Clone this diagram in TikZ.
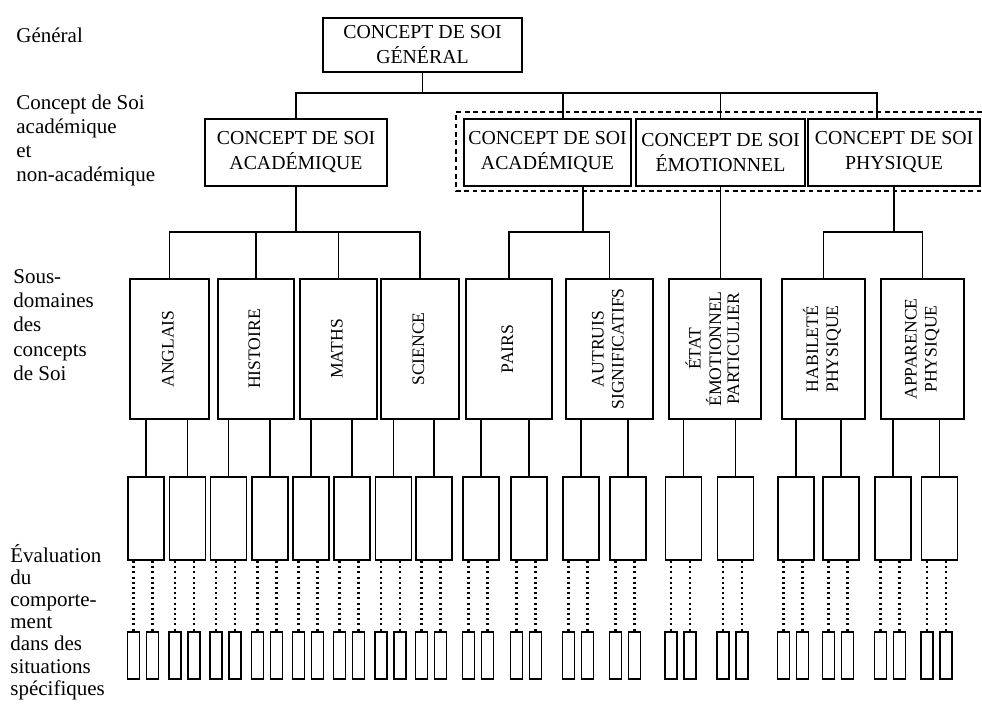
\documentclass[tikz,border=0pt]{standalone}
\usepackage{fontspec}
\setmainfont{Liberation Serif}
\newcommand{\vt}[1]{\rotatebox{90}{\begin{tabular}{@{}c@{}}#1\end{tabular}}}
\begin{document}
\begin{tikzpicture}[x=0.5pt,y=-0.5pt,
  box/.style={draw, line width=0.9pt, inner sep=0pt, align=center},
  conc/.style={box, minimum height=33.5pt, font=\fontsize{9.9}{12.5}\selectfont},
  sub/.style={box, minimum height=70pt, font=\fontsize{8.8}{10}\selectfont},
  med/.style={draw, line width=0.9pt, minimum width=18pt, minimum height=41.5pt, inner sep=0pt},
  sm/.style={draw, line width=0.8pt, minimum width=6pt, minimum height=23.5pt, inner sep=0pt},
  conn/.style={line width=0.85pt},
  dotline/.style={line width=1.1pt, dash pattern=on 1pt off 1.6pt},
  dashbox/.style={line width=0.8pt, dash pattern=on 2.4pt off 1.8pt},
  lab/.style={anchor=west, align=left, inner sep=0pt, font=\fontsize{10.5}{12.2}\selectfont}]
\fill[white] (0,0) rectangle (982,706);
\useasboundingbox (0,0) rectangle (982,706);

% left labels
\node[lab] (l1) at (16,35) {Général};
\node[lab, font=\fontsize{10.5}{12}\selectfont] (l2) at (16,140) {Concept de Soi\\académique\\et\\non-académique};
\node[lab] (l3) at (13,325) {Sous-\\domaines\\des\\concepts\\de Soi};
\node[lab, font=\fontsize{10.5}{11.1}\selectfont] (l4) at (10,622) {Évaluation\\du\\comporte-\\ment\\dans des\\situations\\spécifiques};

% level 1 and 2
\node[conc, minimum width=99.5pt, minimum height=27pt] (gen) at (422.5,45) {CONCEPT DE SOI\\GÉNÉRAL};
\node[conc, minimum width=91pt] (aca) at (296,152.5) {CONCEPT DE SOI\\ACADÉMIQUE};
\node[conc, minimum width=83.5pt] (acb) at (547.5,152.5) {CONCEPT DE SOI\\ACADÉMIQUE};
\node[conc, minimum width=84.5pt] (emo) at (720.5,152.5) {CONCEPT DE SOI\\ÉMOTIONNEL};
\node[conc, minimum width=86pt] (phy) at (894,152.5) {CONCEPT DE SOI\\PHYSIQUE};
\draw[dashbox] (982,112) -- (456,112) -- (456,191) -- (982,191);

% level 3
\node[sub, minimum width=39.5pt] (ang) at (169.5,349) {\vt{ANGLAIS}};
\node[sub, minimum width=38pt] (his) at (256,349) {\vt{HISTOIRE}};
\node[sub, minimum width=38.5pt] (mat) at (338.5,349) {\vt{MATHS}};
\node[sub, minimum width=39pt] (sci) at (420,349) {\vt{SCIENCE}};
\node[sub, minimum width=43pt] (pai) at (509,349) {\vt{PAIRS}};
\node[sub, minimum width=43.5pt] (aut) at (609.5,349) {\vt{AUTRUIS\\SIGNIFICATIFS}};
\node[sub, minimum width=46pt, font=\fontsize{8.8}{9}\selectfont] (eta) at (715,349) {\vt{ÉTAT\\ÉMOTIONNEL\\PARTICULIER}};
\node[sub, minimum width=41.5pt] (hab) at (823.5,349) {\vt{HABILETÉ\\PHYSIQUE}};
\node[sub, minimum width=41.5pt] (app) at (922.5,349) {\vt{APPARENCE\\PHYSIQUE}};

% connectors level 1 -> 2
\coordinate (t0) at (300,93);
\coordinate (dacb) at (563,93);
\coordinate (dphy) at (877,93);
\draw[conn] (gen.south) -- (gen.south |- t0);
\draw[conn] (aca.north) -- (aca.north |- t0) -- (dphy) -- (dphy |- phy.north);
\draw[conn] (dacb) -- (dacb |- acb.north);
\draw[conn] (emo.north) -- (emo.north |- t0);

% connectors level 2 -> 3
\coordinate (h2) at (0,232);
\coordinate (xacb) at (583,0);
\draw[conn] (aca.south) -- (aca.south |- h2);
\draw[conn] (ang.north) -- (ang.north |- h2) -- (sci.north |- h2) -- (sci.north);
\draw[conn] (his.north) -- (his.north |- h2);
\draw[conn] (mat.north) -- (mat.north |- h2);
\draw[conn] (acb.south -| xacb) -- (xacb |- h2);
\draw[conn] (pai.north) -- (pai.north |- h2) -- (aut.north |- h2) -- (aut.north);
\draw[conn] (emo.south) -- (emo.south |- eta.north);
\draw[conn] (phy.south) -- (phy.south |- h2);
\draw[conn] (hab.north) -- (hab.north |- h2) -- (app.north |- h2) -- (app.north);

% level 4 and 5
\foreach \c [count=\i] in {146,187.5,228.5,270,311,352,393.5,434,481,529,581,628,683.5,735.5,796,841,893,939.5} {
  \node[med] (m\i) at (\c,518.5) {};
  \node[sm] (sa\i) at (\c-12.5,655.5) {};
  \node[sm] (sb\i) at (\c+6.5,655.5) {};
  \draw[dotline] (m\i.south -| sa\i) -- (sa\i.north);
  \draw[dotline] (m\i.south -| sb\i) -- (sb\i.north);
}
\foreach \s/\a/\b in {ang/1/2, his/3/4, mat/5/6, sci/7/8, pai/9/10, aut/11/12, eta/13/14, hab/15/16, app/17/18} {
  \draw[conn] (\s.south -| m\a) -- (m\a.north);
  \draw[conn] (\s.south -| m\b) -- (m\b.north);
}
\end{tikzpicture}
\end{document}
